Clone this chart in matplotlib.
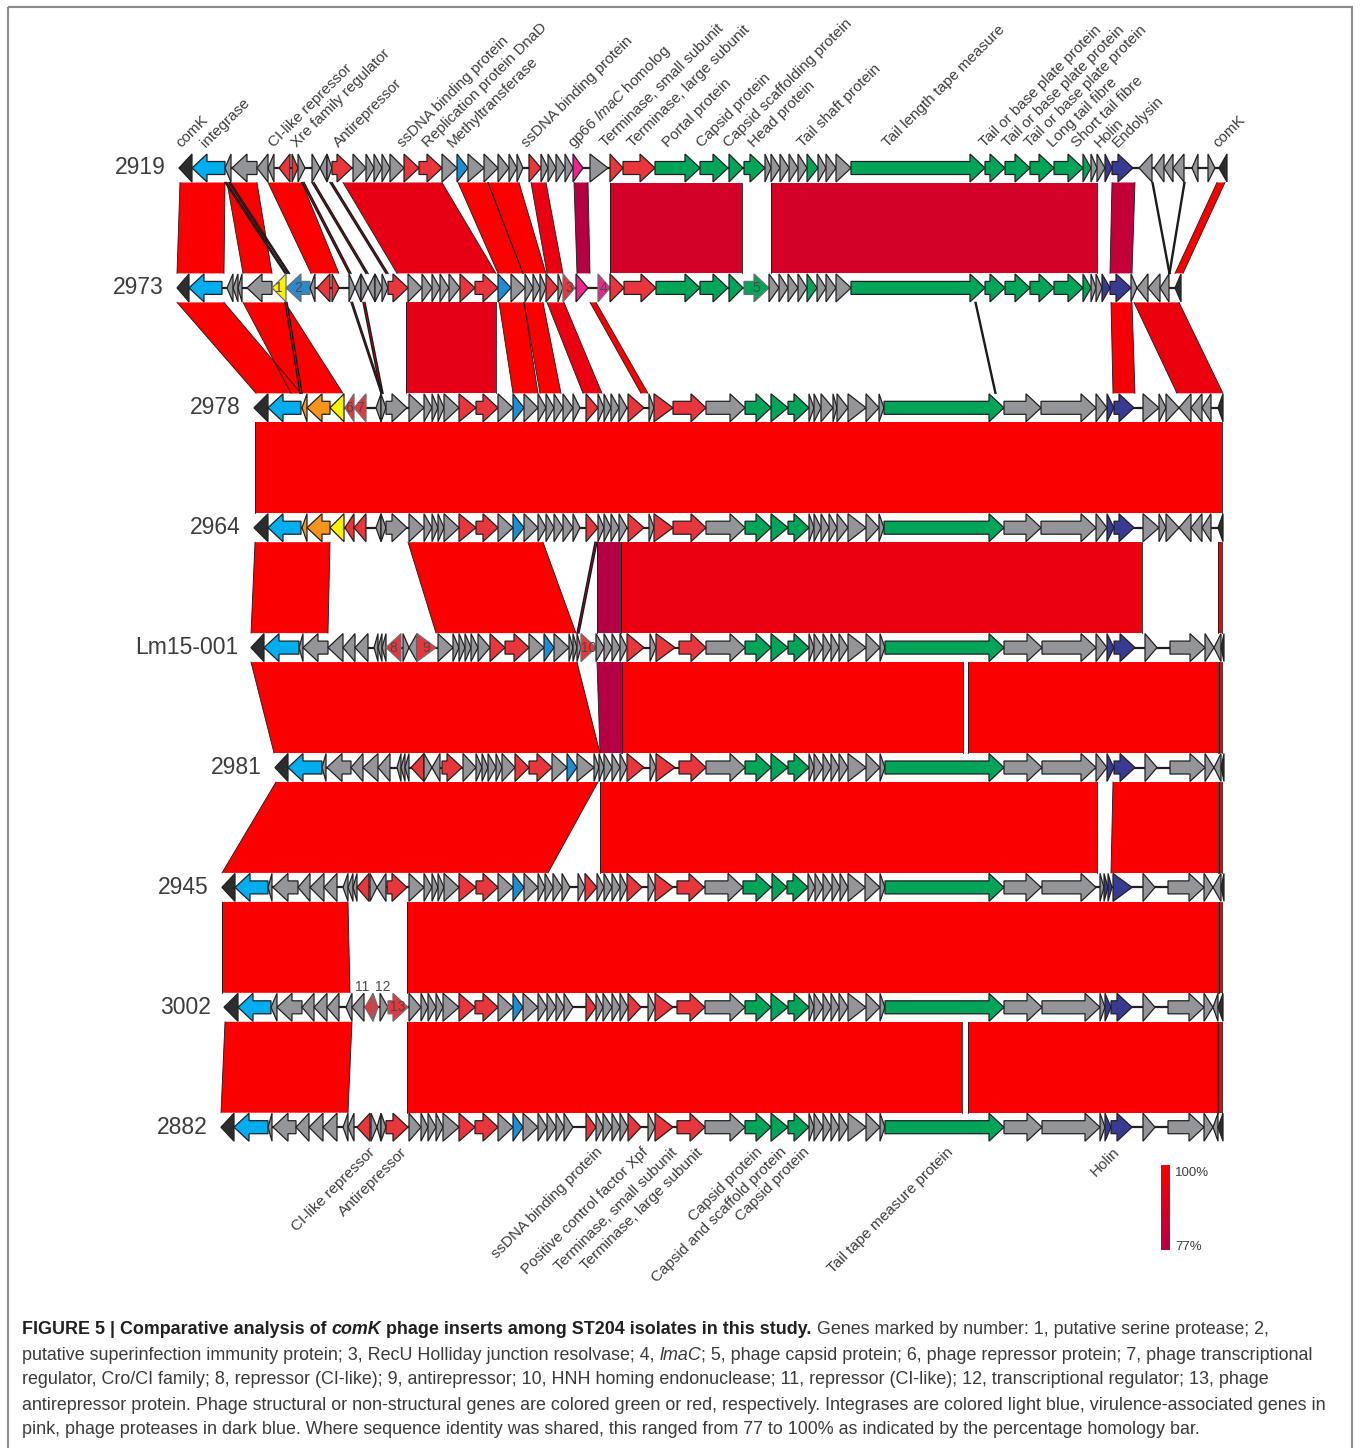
import matplotlib
matplotlib.use("Agg")
import matplotlib.pyplot as plt
from matplotlib.patches import Polygon, Rectangle
from matplotlib.colors import LinearSegmentedColormap, Normalize
import numpy as np

plt.rcParams["font.family"] = ["Liberation Sans", "DejaVu Sans"]
plt.rcParams["mathtext.fontset"] = "custom"
plt.rcParams["mathtext.rm"] = "Liberation Sans"
plt.rcParams["mathtext.it"] = "Liberation Sans:italic"
plt.rcParams["mathtext.bf"] = "Liberation Sans:bold"

# GLOBALS
FIG_W, FIG_H = 1360, 1448
FIRST_ROW_Y = 168
ROW_STEP = 119.9
HEAD_H = 14
BODY_H = 6.5
HEAD_LEN = 15
BLOCK_GAP = 14.5
TEXT_GREY = "#3c3c3c"

GENE_COLOURS = {
    "k": "#2d2d2d", "i": "#00aeef", "g": "#949599", "r": "#e8363c",
    "G": "#00a55a", "b": "#1b8fd2", "p": "#ec268f", "d": "#393b93",
    "y": "#fff200", "o": "#f7941d", "s": "#2e88cc",
}

# ---------------------------------------------------------------- data
TRACK_NAMES = ["2919", "2973", "2978", "2964", "Lm15-001",
               "2981", "2945", "3002", "2882"]

# genes: (start, end, strand, kind[, number label[, label alignment]])
# positions are on the common map axis shared by all tracks
GENES_2919 = [
    (179, 192, -1, "k"), (192, 225, -1, "i"), (225, 231, -1, "g"), (232, 257, -1, "g"),
    (257, 268, -1, "g"), (268, 274, -1, "g"), (279, 290, -1, "r"), (292, 298, 1, "r"),
    (298, 305, 1, "g"), (312, 320, 1, "g"), (320, 327, -1, "g"), (327, 332, 1, "g"),
    (332, 352, 1, "r"), (353, 366, 1, "g"), (366, 374, 1, "g"), (374, 382, 1, "g"),
    (382, 390, 1, "g"), (390, 404, 1, "g"), (404, 419, 1, "r"), (419, 442, 1, "r"),
    (442, 457, 1, "g"), (457, 468, 1, "b"), (468, 484, 1, "g"), (484, 498, 1, "g"),
    (498, 509, 1, "g"), (509, 517, 1, "g"), (517, 523, 1, "g"), (529, 541, 1, "r"),
    (541, 548, 1, "g"), (548, 556, 1, "g"), (556, 565, 1, "g"), (565, 573, 1, "g"),
    (573, 583, 1, "p"), (590, 608, 1, "g"), (610, 623, 1, "r"), (623, 655, 1, "r"),
    (655, 700, 1, "G"), (700, 728, 1, "G"), (729, 743, 1, "G"), (744, 765, 1, "G"),
    (765, 771, 1, "g"), (771, 780, 1, "g"), (780, 789, 1, "g"), (789, 798, 1, "g"),
    (798, 807, 1, "g"), (807, 818, 1, "G"), (818, 826, 1, "g"), (826, 836, 1, "g"),
    (836, 851, 1, "g"), (851, 985, 1, "G"), (985, 1005, 1, "G"), (1005, 1030, 1, "G"),
    (1030, 1054, 1, "G"), (1054, 1083, 1, "G"), (1083, 1091, 1, "G"), (1091, 1097, 1, "g"),
    (1097, 1105, 1, "g"), (1105, 1112, 1, "d"), (1112, 1133, 1, "d"), (1139, 1152, -1, "g"),
    (1154, 1164, -1, "g"), (1164, 1173, -1, "g"), (1173, 1184, -1, "g"), (1192, 1198, -1, "g"),
    (1208, 1215, 1, "g"), (1219, 1227, -1, "k"),
]
GENES_2973 = [
    (177, 189, -1, "k"), (189, 222, -1, "i"), (227, 233, -1, "g"), (233, 238, -1, "g"),
    (238, 242, -1, "g"), (247, 272, -1, "g"), (272, 286, -1, "y", "1"), (286, 310, -1, "s", "2"),
    (310, 315, -1, "g"), (317, 330, -1, "r"), (332, 339, 1, "r"), (349, 355, 1, "g"),
    (355, 361, -1, "g"), (361, 368, 1, "g"), (368, 375, -1, "g"), (375, 382, 1, "g"),
    (382, 388, 1, "g"), (388, 408, 1, "r"), (408, 422, 1, "g"), (422, 432, 1, "g"),
    (432, 440, 1, "g"), (440, 449, 1, "g"), (449, 460, 1, "g"), (460, 475, 1, "r"),
    (475, 498, 1, "r"), (498, 511, 1, "b"), (511, 525, 1, "g"), (525, 533, 1, "g"),
    (533, 540, 1, "g"), (540, 546, 1, "g"), (546, 558, 1, "r"), (558, 563, 1, "g"),
    (563, 575, 1, "r", "3"), (576, 588, 1, "p"), (598, 610, 1, "p", "4"), (610, 624, 1, "r"),
    (624, 656, 1, "r"), (656, 700, 1, "G"), (700, 728, 1, "G"), (729, 743, 1, "G"),
    (744, 769, 1, "G", "5"), (769, 779, 1, "g"), (779, 788, 1, "g"), (788, 798, 1, "g"),
    (798, 807, 1, "g"), (807, 817, 1, "G"), (817, 826, 1, "g"), (826, 836, 1, "g"),
    (836, 851, 1, "g"), (851, 985, 1, "G"), (985, 1005, 1, "G"), (1005, 1030, 1, "G"),
    (1030, 1054, 1, "G"), (1054, 1083, 1, "G"), (1083, 1091, 1, "G"), (1091, 1096, 1, "g"),
    (1096, 1102, 1, "g"), (1102, 1110, 1, "d"), (1110, 1131, 1, "d"), (1131, 1137, 1, "g"),
    (1137, 1148, -1, "g"), (1148, 1160, -1, "g"), (1160, 1169, -1, "g"), (1175, 1181, -1, "k"),
]
GENES_2978 = [
    (254, 268, -1, "k"), (268, 301, -1, "i"), (302, 307, -1, "o"), (307, 330, -1, "o"),
    (330, 344, -1, "y"), (345, 354, -1, "r", "6"), (354, 366, -1, "r", "7"), (376, 381, -1, "g"),
    (381, 386, 1, "g"), (386, 407, 1, "g"), (409, 424, 1, "g"), (424, 432, 1, "g"),
    (432, 438, 1, "g"), (438, 444, 1, "g"), (444, 459, 1, "g"), (459, 476, 1, "r"),
    (476, 498, 1, "r"), (498, 513, 1, "g"), (513, 524, 1, "b"), (524, 538, 1, "g"),
    (538, 546, 1, "g"), (546, 554, 1, "g"), (554, 563, 1, "g"), (563, 573, 1, "g"),
    (573, 580, 1, "g"), (586, 598, 1, "r"), (598, 604, 1, "g"), (604, 611, 1, "g"),
    (611, 619, 1, "g"), (619, 627, 1, "g"), (628, 644, 1, "r"), (649, 654, 1, "g"),
    (654, 673, 1, "r"), (673, 706, 1, "r"), (706, 745, 1, "g"), (745, 771, 1, "G"),
    (771, 788, 1, "G"), (788, 809, 1, "G"), (809, 814, 1, "g"), (814, 821, 1, "g"),
    (821, 833, 1, "g"), (833, 837, 1, "g"), (837, 848, 1, "g"), (848, 866, 1, "g"),
    (866, 879, 1, "g"), (879, 884, 1, "g"), (884, 1004, 1, "G"), (1004, 1041, 1, "g"),
    (1041, 1096, 1, "g"), (1096, 1107, 1, "g"), (1107, 1114, 1, "d"), (1114, 1134, 1, "d"),
    (1143, 1159, 1, "g"), (1159, 1166, 1, "g"), (1166, 1179, 1, "g"), (1179, 1191, -1, "g"),
    (1191, 1202, -1, "g"), (1202, 1211, -1, "g"), (1218, 1223, -1, "k"),
]
GENES_2964 = [
    (254, 268, -1, "k"), (268, 301, -1, "i"), (302, 307, -1, "o"), (307, 330, -1, "o"),
    (330, 344, -1, "y"), (345, 354, -1, "r"), (354, 366, -1, "r"), (376, 381, -1, "g"),
    (381, 386, 1, "g"), (386, 407, 1, "g"), (409, 424, 1, "g"), (424, 432, 1, "g"),
    (432, 438, 1, "g"), (438, 444, 1, "g"), (444, 459, 1, "g"), (459, 476, 1, "r"),
    (476, 498, 1, "r"), (498, 513, 1, "g"), (513, 524, 1, "b"), (524, 538, 1, "g"),
    (538, 546, 1, "g"), (546, 554, 1, "g"), (554, 563, 1, "g"), (563, 573, 1, "g"),
    (573, 580, 1, "g"), (586, 598, 1, "r"), (598, 604, 1, "g"), (604, 611, 1, "g"),
    (611, 619, 1, "g"), (619, 627, 1, "g"), (628, 644, 1, "r"), (649, 654, 1, "g"),
    (654, 673, 1, "r"), (673, 706, 1, "r"), (706, 745, 1, "g"), (745, 771, 1, "G"),
    (771, 788, 1, "G"), (788, 809, 1, "G"), (809, 814, 1, "g"), (814, 821, 1, "g"),
    (821, 829, 1, "g"), (829, 837, 1, "g"), (837, 848, 1, "g"), (848, 866, 1, "g"),
    (866, 879, 1, "g"), (879, 884, 1, "g"), (884, 1004, 1, "G"), (1004, 1041, 1, "g"),
    (1041, 1096, 1, "g"), (1096, 1107, 1, "g"), (1107, 1114, 1, "d"), (1114, 1134, 1, "d"),
    (1143, 1159, 1, "g"), (1159, 1166, 1, "g"), (1166, 1179, 1, "g"), (1179, 1191, -1, "g"),
    (1191, 1202, -1, "g"), (1202, 1211, -1, "g"), (1218, 1223, -1, "k"),
]
GENES_LM15 = [
    (251, 264, -1, "k"), (264, 299, -1, "i"), (299, 303, -1, "g"), (303, 328, -1, "g"),
    (328, 343, -1, "g"), (343, 355, -1, "g"), (355, 368, -1, "g"), (374, 378, -1, "g"),
    (378, 382, -1, "g"), (382, 386, -1, "g"), (386, 401, -1, "r", "8"), (403, 409, 1, "g"),
    (409, 417, -1, "g"), (417, 436, 1, "r", "9"), (438, 453, 1, "g"), (453, 459, 1, "g"),
    (459, 465, 1, "g"), (465, 471, 1, "g"), (471, 478, 1, "g"), (478, 490, 1, "g"),
    (490, 505, 1, "r"), (505, 529, 1, "r"), (529, 544, 1, "g"), (544, 554, 1, "b"),
    (554, 569, 1, "g"), (569, 573, 1, "g"), (573, 577, 1, "g"), (577, 581, 1, "g"),
    (581, 596, 1, "r", "10"), (596, 604, 1, "g"), (604, 612, 1, "g"), (612, 620, 1, "g"),
    (620, 627, 1, "g"), (627, 644, 1, "r"), (650, 656, 1, "g"), (656, 675, 1, "r"),
    (679, 706, 1, "r"), (706, 745, 1, "g"), (745, 771, 1, "G"), (771, 788, 1, "G"),
    (788, 809, 1, "G"), (809, 814, 1, "g"), (814, 823, 1, "g"), (823, 831, 1, "g"),
    (831, 839, 1, "g"), (839, 848, 1, "g"), (848, 866, 1, "g"), (866, 880, 1, "g"),
    (880, 885, 1, "g"), (885, 1004, 1, "G"), (1004, 1042, 1, "g"), (1042, 1096, 1, "g"),
    (1096, 1107, 1, "g"), (1107, 1114, 1, "d"), (1114, 1135, 1, "d"), (1145, 1157, 1, "g"),
    (1170, 1205, 1, "g"), (1205, 1214, 1, "g"), (1214, 1221, -1, "g"), (1221, 1224, -1, "k"),
]
GENES_2981 = [
    (275, 288, -1, "k"), (288, 322, -1, "i"), (322, 326, -1, "g"), (327, 351, -1, "g"),
    (351, 363, -1, "g"), (363, 378, -1, "g"), (378, 390, -1, "g"), (397, 401, -1, "g"),
    (401, 405, -1, "g"), (405, 409, -1, "g"), (411, 424, -1, "r"), (424, 432, 1, "g"),
    (432, 440, -1, "g"), (442, 462, 1, "r"), (463, 476, 1, "g"), (476, 482, 1, "g"),
    (482, 488, 1, "g"), (488, 496, 1, "g"), (496, 502, 1, "g"), (502, 515, 1, "g"),
    (515, 529, 1, "r"), (529, 552, 1, "r"), (552, 567, 1, "g"), (567, 577, 1, "b"),
    (577, 594, 1, "g"), (594, 599, 1, "g"), (599, 604, 1, "g"), (604, 612, 1, "g"),
    (612, 620, 1, "g"), (620, 627, 1, "g"), (627, 644, 1, "r"), (650, 656, 1, "g"),
    (656, 675, 1, "r"), (679, 706, 1, "r"), (706, 745, 1, "g"), (745, 771, 1, "G"),
    (771, 788, 1, "G"), (788, 809, 1, "G"), (809, 814, 1, "g"), (814, 823, 1, "g"),
    (823, 831, 1, "g"), (831, 839, 1, "g"), (839, 848, 1, "g"), (848, 866, 1, "g"),
    (866, 880, 1, "g"), (880, 885, 1, "g"), (885, 1004, 1, "G"), (1004, 1042, 1, "g"),
    (1042, 1096, 1, "g"), (1096, 1107, 1, "g"), (1107, 1114, 1, "d"), (1114, 1135, 1, "d"),
    (1145, 1157, 1, "g"), (1170, 1205, 1, "g"), (1205, 1214, 1, "g"), (1214, 1221, -1, "g"),
    (1221, 1224, -1, "k"),
]
GENES_2945 = [
    (222, 235, -1, "k"), (235, 268, -1, "i"), (268, 272, -1, "g"), (273, 298, -1, "g"),
    (298, 310, -1, "g"), (310, 324, -1, "g"), (324, 337, -1, "g"), (343, 348, -1, "g"),
    (348, 353, -1, "g"), (353, 357, -1, "g"), (357, 369, -1, "r"), (370, 377, 1, "g"),
    (377, 386, -1, "g"), (387, 407, 1, "r"), (409, 424, 1, "g"), (424, 432, 1, "g"),
    (432, 438, 1, "g"), (438, 444, 1, "g"), (444, 459, 1, "g"), (459, 476, 1, "r"),
    (476, 498, 1, "r"), (498, 513, 1, "g"), (513, 524, 1, "b"), (524, 538, 1, "g"),
    (538, 545, 1, "g"), (545, 553, 1, "g"), (553, 562, 1, "g"), (562, 570, 1, "g"),
    (578, 585, 1, "g"), (585, 597, 1, "r"), (597, 604, 1, "g"), (604, 612, 1, "g"),
    (612, 620, 1, "g"), (620, 627, 1, "g"), (627, 642, 1, "r"), (648, 655, 1, "g"),
    (655, 673, 1, "r"), (677, 704, 1, "r"), (705, 743, 1, "g"), (743, 771, 1, "G"),
    (772, 787, 1, "G"), (787, 808, 1, "G"), (808, 815, 1, "g"), (815, 823, 1, "g"),
    (823, 832, 1, "g"), (832, 840, 1, "g"), (840, 848, 1, "g"), (848, 865, 1, "g"),
    (865, 880, 1, "g"), (880, 885, 1, "g"), (885, 1004, 1, "G"), (1004, 1041, 1, "g"),
    (1042, 1096, 1, "g"), (1100, 1104, 1, "g"), (1104, 1108, 1, "d"), (1108, 1112, 1, "d"),
    (1113, 1132, 1, "d"), (1143, 1155, 1, "g"), (1168, 1204, 1, "g"), (1204, 1213, 1, "g"),
    (1213, 1221, -1, "g"), (1221, 1224, -1, "k"),
]
GENES_3002 = [
    (224, 238, -1, "k"), (238, 271, -1, "i"), (271, 277, -1, "g"), (277, 302, -1, "g"),
    (302, 314, -1, "g"), (314, 327, -1, "g"), (327, 339, -1, "g"), (346, 352, -1, "g"),
    (352, 364, -1, "g"), (365, 373, -1, "r", "11", "right"), (373, 378, 1, "r", "12", "left"),
    (380, 388, 1, "g"), (388, 408, 1, "r", "13"), (409, 421, 1, "g"), (421, 428, 1, "g"),
    (428, 436, 1, "g"), (436, 443, 1, "g"), (443, 459, 1, "g"), (459, 475, 1, "r"),
    (475, 498, 1, "r"), (498, 513, 1, "g"), (513, 523, 1, "b"), (523, 538, 1, "g"),
    (538, 547, 1, "g"), (547, 556, 1, "g"), (556, 564, 1, "g"), (564, 573, 1, "g"),
    (586, 596, 1, "r"), (596, 603, 1, "g"), (603, 612, 1, "g"), (612, 620, 1, "g"),
    (620, 628, 1, "g"), (628, 641, 1, "r"), (648, 655, 1, "g"), (655, 673, 1, "r"),
    (677, 705, 1, "r"), (705, 745, 1, "g"), (745, 771, 1, "G"), (771, 788, 1, "G"),
    (788, 809, 1, "G"), (809, 814, 1, "g"), (814, 823, 1, "g"), (823, 831, 1, "g"),
    (831, 839, 1, "g"), (839, 848, 1, "g"), (848, 866, 1, "g"), (866, 880, 1, "g"),
    (880, 885, 1, "g"), (885, 1004, 1, "G"), (1004, 1042, 1, "g"), (1042, 1100, 1, "g"),
    (1100, 1105, 1, "g"), (1105, 1111, 1, "d"), (1111, 1132, 1, "d"), (1143, 1155, 1, "g"),
    (1168, 1204, 1, "g"), (1204, 1213, 1, "g"), (1213, 1218, -1, "g"), (1218, 1223, -1, "k"),
]
GENES_2882 = [
    (221, 234, -1, "k"), (234, 268, -1, "i"), (268, 272, -1, "g"), (273, 296, -1, "g"),
    (296, 309, -1, "g"), (309, 323, -1, "g"), (323, 337, -1, "g"), (343, 348, -1, "g"),
    (348, 354, -1, "g"), (357, 370, -1, "r"), (371, 377, 1, "g"), (377, 381, -1, "g"),
    (381, 386, 1, "g"), (386, 408, 1, "r"), (409, 421, 1, "g"), (421, 428, 1, "g"),
    (428, 436, 1, "g"), (436, 443, 1, "g"), (443, 459, 1, "g"), (459, 475, 1, "r"),
    (475, 498, 1, "r"), (498, 513, 1, "g"), (513, 523, 1, "b"), (523, 538, 1, "g"),
    (538, 547, 1, "g"), (547, 556, 1, "g"), (556, 564, 1, "g"), (564, 573, 1, "g"),
    (586, 596, 1, "r"), (596, 603, 1, "g"), (603, 612, 1, "g"), (612, 620, 1, "g"),
    (620, 628, 1, "g"), (628, 641, 1, "r"), (648, 655, 1, "g"), (655, 673, 1, "r"),
    (677, 705, 1, "r"), (705, 745, 1, "g"), (745, 771, 1, "G"), (771, 788, 1, "G"),
    (788, 809, 1, "G"), (809, 814, 1, "g"), (814, 823, 1, "g"), (823, 831, 1, "g"),
    (831, 839, 1, "g"), (839, 848, 1, "g"), (848, 866, 1, "g"), (866, 880, 1, "g"),
    (880, 885, 1, "g"), (885, 1004, 1, "G"), (1004, 1042, 1, "g"), (1042, 1100, 1, "g"),
    (1100, 1105, 1, "g"), (1105, 1111, 1, "d"), (1111, 1132, 1, "d"), (1143, 1155, 1, "g"),
    (1168, 1204, 1, "g"), (1204, 1213, 1, "g"), (1213, 1218, -1, "g"), (1218, 1223, -1, "k"),
]
TRACK_GENES = [GENES_2919, GENES_2973, GENES_2978, GENES_2964, GENES_LM15,
               GENES_2981, GENES_2945, GENES_3002, GENES_2882]

# homology blocks between neighbouring tracks:
# (upper start, upper end, lower start, lower end, identity %)
HOM_2919_2973 = [
    (180, 225, 177, 224, 100), (227, 257, 243, 272, 100), (225, 226.5, 285, 286.5, 98),
    (229, 230.5, 288, 289.5, 98), (268, 302, 311, 339, 100), (302, 304, 349, 351, 97),
    (312, 314, 366, 368, 97), (330, 332, 386, 388, 97), (343, 442, 397, 496, 94),
    (458, 488, 498, 523, 100), (488, 519, 523, 546, 100), (531, 546, 547, 563, 95),
    (574, 588, 577, 590, 79), (610, 742, 610, 742, 88), (771, 1097, 771, 1097, 88),
    (1112, 1135, 1110, 1132, 83), (1152, 1153, 1169, 1170, 95), (1184, 1185, 1169, 1170, 95),
    (1217, 1225, 1175, 1183, 100),
]
HOM_2973_2978 = [
    (177, 224, 256, 301, 100), (243, 285, 291, 343, 100), (285, 287, 300, 302, 97),
    (351, 352.5, 381, 382.5, 97), (363, 365, 381, 383, 99), (406, 496, 406, 496, 93),
    (499, 524, 513, 538, 100), (524, 543, 540, 561, 100), (547, 564, 583, 602, 95),
    (590, 596, 641, 648, 100), (975, 976, 995, 996, 95), (1111, 1132, 1113, 1135, 98),
    (1134, 1179, 1177, 1223, 96),
]
HOM_2978_2964 = [(255, 1222, 255, 1222, 100)]
HOM_2964_LM15 = [
    (255, 330, 251, 328, 100), (408, 543, 436, 576, 100), (595, 597, 577, 579, 80),
    (597, 620, 597, 620, 79), (621, 1142, 621, 1142, 95), (1218, 1222, 1218, 1222, 100),
]
HOM_LM15_2981 = [
    (251, 577, 274, 600, 100), (597, 621, 600, 621, 79), (622, 963, 622, 963, 100),
    (968, 1218, 968, 1218, 100), (1219, 1222, 1219, 1222, 100),
]
HOM_2981_2945 = [
    (276, 598, 222, 548, 100), (600, 1097, 600, 1097, 100), (1113, 1218, 1111, 1218, 100),
    (1219, 1222, 1219, 1222, 100),
]
HOM_2945_3002 = [(222, 348, 222, 350, 100), (407, 1218, 407, 1218, 100),
                 (1219, 1222, 1219, 1222, 100)]
HOM_3002_2882 = [(225, 352, 221, 348, 100), (407, 962, 407, 962, 100),
                 (968, 1217, 968, 1217, 100), (1218, 1222, 1218, 1222, 100)]
HOMOLOGY = [HOM_2919_2973, HOM_2973_2978, HOM_2978_2964, HOM_2964_LM15,
            HOM_LM15_2981, HOM_2981_2945, HOM_2945_3002, HOM_3002_2882]

IDENTITY_MIN, IDENTITY_MAX = 77, 100

TOP_LABELS = [
    (181, "comK"), (206, "integrase"), (274, "CI-like repressor"),
    (297, "Xre family regulator"), (339, "Antirepressor"), (403, "ssDNA binding protein"),
    (428, "Replication protein DnaD"), (453, "Methyltransferase"),
    (527, "ssDNA binding protein"), (573, r"gp66 $\mathit{lmaC}$ homolog"),
    (606, "Terminase, small subunit"), (633, "Terminase, large subunit"),
    (668, "Portal protein"), (702, "Capsid protein"), (729, "Capsid scaffolding protein"),
    (754, "Head protein"), (803, "Tail shaft protein"), (888, "Tail length tape measure"),
    (985, "Tail or base plate protein"), (1008, "Tail or base plate protein"),
    (1030, "Tail or base plate protein"), (1053, "Long tail fibre"),
    (1077, "Short tail fibre"), (1100, "Holin"), (1118, "Endolysin"), (1218, "comK"),
]
BOTTOM_LABELS = [
    (368, "CI-like repressor"), (400, "Antirepressor"), (595, "ssDNA binding protein"),
    (641, "Positive control factor Xpf"), (670, "Terminase, small subunit"),
    (696, "Terminase, large subunit"), (755, "Capsid protein"),
    (779, "Capsid and scaffold protein"), (802, "Capsid protein"),
    (946, "Tail tape measure protein"), (1112, "Holin"),
]

CAPTION_LINES = [
    [("FIGURE 5 | Comparative analysis of ", "bold", "normal"), ("comK", "bold", "italic"),
     (" phage inserts among ST204 isolates in this study.", "bold", "normal"),
     (" Genes marked by number: 1, putative serine protease; 2,", "normal", "normal")],
    [("putative superinfection immunity protein; 3, RecU Holliday junction resolvase; 4, ",
      "normal", "normal"), ("lmaC", "normal", "italic"),
     ("; 5, phage capsid protein; 6, phage repressor protein; 7, phage transcriptional",
      "normal", "normal")],
    [("regulator, Cro/CI family; 8, repressor (CI-like); 9, antirepressor; 10, HNH homing "
      "endonuclease; 11, repressor (CI-like); 12, transcriptional regulator; 13, phage",
      "normal", "normal")],
    [("antirepressor protein. Phage structural or non-structural genes are colored green or "
      "red, respectively. Integrases are colored light blue, virulence-associated genes in",
      "normal", "normal")],
    [("pink, phage proteases in dark blue. Where sequence identity was shared, this ranged "
      "from 77 to 100% as indicated by the percentage homology bar.", "normal", "normal")],
]


def main():
    fig = plt.figure(figsize=(FIG_W / 100, FIG_H / 100), dpi=100)
    ax = fig.add_axes([0, 0, 1, 1])
    ax.set_xlim(0, FIG_W)
    ax.set_ylim(FIG_H, 0)
    ax.axis("off")

    cmap = LinearSegmentedColormap.from_list("identity", ["#b0004a", "#fa0000"])
    norm = Normalize(vmin=IDENTITY_MIN, vmax=IDENTITY_MAX)

    rows = [FIRST_ROW_Y + idx * ROW_STEP for idx in range(len(TRACK_NAMES))]

    # Homology blocks first, so the tracks sit on top of them
    for idx, blocks in enumerate(HOMOLOGY):
        draw_blocks(ax, blocks, rows[idx] + BLOCK_GAP, rows[idx + 1] - BLOCK_GAP, cmap, norm)

    for name, genes, y in zip(TRACK_NAMES, TRACK_GENES, rows):
        draw_track(ax, name, genes, y)

    # Gene annotation above the first and below the last track
    for x, label in TOP_LABELS:
        ax.text(x, rows[0] - 20, label, rotation=45, rotation_mode="anchor",
                ha="left", va="baseline", fontsize=11, color=TEXT_GREY)
    for x, label in BOTTOM_LABELS:
        ax.text(x, rows[-1] + 18, label, rotation=45, rotation_mode="anchor",
                ha="right", va="top", fontsize=11, color=TEXT_GREY)

    draw_colour_bar(ax, cmap)

    # Frame round the panel
    ax.add_patch(Rectangle((8, 7), 1344, 1460, fill=False, ec="#8a8a8a", lw=1.5))

    draw_caption(fig, ax)
    fig.savefig("out.png", dpi=100)


def gene_shape(start, end, strand, y):
    """Arrow polygon for one gene; short genes are plain triangles"""
    length = end - start
    if length < 20:
        if strand > 0:
            return [(start, y - HEAD_H), (end, y), (start, y + HEAD_H)]
        return [(end, y - HEAD_H), (start, y), (end, y + HEAD_H)]
    if strand > 0:
        neck = end - HEAD_LEN
        return [(start, y - BODY_H), (neck, y - BODY_H), (neck, y - HEAD_H), (end, y),
                (neck, y + HEAD_H), (neck, y + BODY_H), (start, y + BODY_H)]
    neck = start + HEAD_LEN
    return [(end, y - BODY_H), (neck, y - BODY_H), (neck, y - HEAD_H), (start, y),
            (neck, y + HEAD_H), (neck, y + BODY_H), (end, y + BODY_H)]


def draw_track(ax, name, genes, y):
    first, last = genes[0][0], genes[-1][1]
    ax.plot([first, last], [y, y], color="#231f20", lw=1.6, zorder=2,
            solid_capstyle="butt")
    for gene in genes:
        start, end, strand, kind = gene[:4]
        numbered = len(gene) > 4
        ax.add_patch(Polygon(gene_shape(start, end, strand, y), closed=True,
                             fc=GENE_COLOURS[kind], ec="#6d6e71" if numbered else "#231f20",
                             lw=0.9, zorder=3))
        if numbered:
            if end - start >= 9:
                ax.text((start + end) / 2, y, gene[4], ha="center", va="center",
                        fontsize=10, color="#4a4a4a", zorder=4)
            else:
                # too small to hold its number: write it just above the gene
                align = gene[5] if len(gene) > 5 else "center"
                ax.text((start + end) / 2, y - 20, gene[4], ha=align, va="center",
                        fontsize=10, color="#4a4a4a", zorder=4)
    ax.text(first - 13, y, name, ha="right", va="center", fontsize=16.5, color=TEXT_GREY)


def draw_blocks(ax, blocks, y_top, y_bottom, cmap, norm):
    for ts, te, bs, be, ident in blocks:
        colour = cmap(norm(ident))
        thin = (te - ts) < 3
        ax.add_patch(Polygon([(ts, y_top), (te, y_top), (be, y_bottom), (bs, y_bottom)],
                             closed=True, fc=colour, ec="none", zorder=1))
        side_lw = 1.0 if thin else 0.6
        ax.plot([ts, bs], [y_top, y_bottom], color="#1a1a1a", lw=side_lw, zorder=1.5)
        ax.plot([te, be], [y_top, y_bottom], color="#1a1a1a", lw=side_lw, zorder=1.5)


def draw_colour_bar(ax, cmap):
    gradient = np.linspace(1, 0, 200).reshape(-1, 1)
    ax.imshow(gradient, cmap=cmap, aspect="auto", extent=(1161, 1170, 1250, 1165),
              zorder=2)
    ax.text(1175, 1173, f"{IDENTITY_MAX}%", fontsize=9.5, va="center", color=TEXT_GREY)
    ax.text(1175, 1247, f"{IDENTITY_MIN}%", fontsize=9.5, va="center", color=TEXT_GREY)


def draw_caption(fig, ax):
    """Caption lines built from bold / italic segments placed one after another"""
    renderer = fig.canvas.get_renderer()
    for line_idx, segments in enumerate(CAPTION_LINES):
        x = 22
        y = 1330 + line_idx * 25
        for text, weight, style in segments:
            colour = "#231f20" if weight == "bold" else "#3a3a3a"
            t = ax.text(x, y, text, fontsize=12.9, fontweight=weight, fontstyle=style,
                        va="center", ha="left", color=colour)
            x += t.get_window_extent(renderer).width


if __name__ == "__main__":
    main()
